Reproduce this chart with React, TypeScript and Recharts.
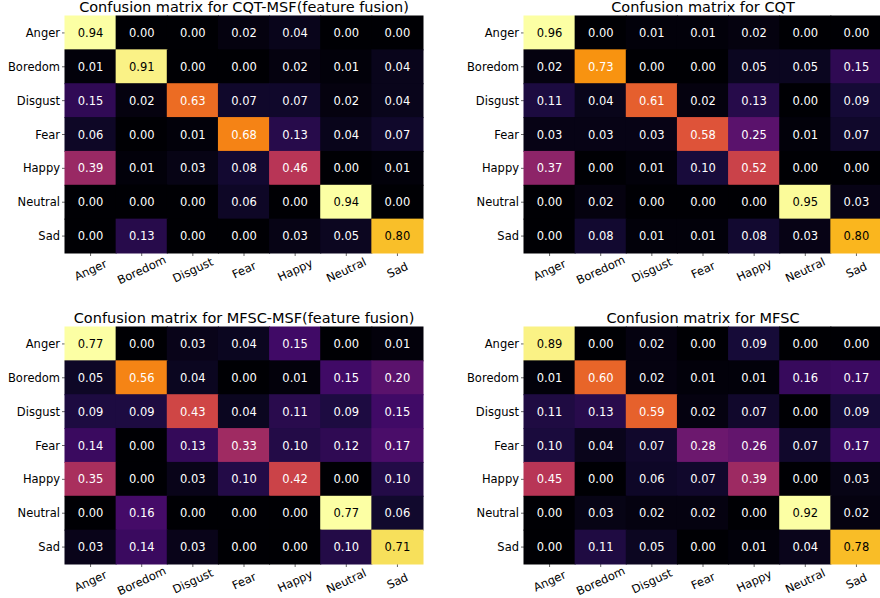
import React from 'react'
import {ScatterChart, Scatter, XAxis, YAxis} from 'recharts'

const labels = ['Anger', 'Boredom', 'Disgust', 'Fear', 'Happy', 'Neutral', 'Sad']

const cqtMsf = [
  [0.94, 0.0, 0.0, 0.02, 0.04, 0.0, 0.0],
  [0.01, 0.91, 0.0, 0.0, 0.02, 0.01, 0.04],
  [0.15, 0.02, 0.63, 0.07, 0.07, 0.02, 0.04],
  [0.06, 0.0, 0.01, 0.68, 0.13, 0.04, 0.07],
  [0.39, 0.01, 0.03, 0.08, 0.46, 0.0, 0.01],
  [0.0, 0.0, 0.0, 0.06, 0.0, 0.94, 0.0],
  [0.0, 0.13, 0.0, 0.0, 0.03, 0.05, 0.8],
]
const cqt = [
  [0.96, 0.0, 0.01, 0.01, 0.02, 0.0, 0.0],
  [0.02, 0.73, 0.0, 0.0, 0.05, 0.05, 0.15],
  [0.11, 0.04, 0.61, 0.02, 0.13, 0.0, 0.09],
  [0.03, 0.03, 0.03, 0.58, 0.25, 0.01, 0.07],
  [0.37, 0.0, 0.01, 0.1, 0.52, 0.0, 0.0],
  [0.0, 0.02, 0.0, 0.0, 0.0, 0.95, 0.03],
  [0.0, 0.08, 0.01, 0.01, 0.08, 0.03, 0.8],
]
const mfscMsf = [
  [0.77, 0.0, 0.03, 0.04, 0.15, 0.0, 0.01],
  [0.05, 0.56, 0.04, 0.0, 0.01, 0.15, 0.2],
  [0.09, 0.09, 0.43, 0.04, 0.11, 0.09, 0.15],
  [0.14, 0.0, 0.13, 0.33, 0.1, 0.12, 0.17],
  [0.35, 0.0, 0.03, 0.1, 0.42, 0.0, 0.1],
  [0.0, 0.16, 0.0, 0.0, 0.0, 0.77, 0.06],
  [0.03, 0.14, 0.03, 0.0, 0.0, 0.1, 0.71],
]
const mfsc = [
  [0.89, 0.0, 0.02, 0.0, 0.09, 0.0, 0.0],
  [0.01, 0.6, 0.02, 0.01, 0.01, 0.16, 0.17],
  [0.11, 0.13, 0.59, 0.02, 0.07, 0.0, 0.09],
  [0.1, 0.04, 0.07, 0.28, 0.26, 0.07, 0.17],
  [0.45, 0.0, 0.06, 0.07, 0.39, 0.0, 0.03],
  [0.0, 0.03, 0.02, 0.02, 0.0, 0.92, 0.02],
  [0.0, 0.11, 0.05, 0.0, 0.01, 0.04, 0.78],
]

const inferno = [
  '#000004', '#160b39', '#420a68', '#6a176e', '#932667', '#bc3754',
  '#dd513a', '#f37819', '#fca50a', '#f6d746', '#fcffa4',
]

function hex(c: string) {
  return [1, 3, 5].map(i => parseInt(c.slice(i, i + 2), 16))
}
function colorOf(t: number) {
  const p = Math.max(0, Math.min(1, t)) * 10
  const i = Math.min(9, Math.floor(p))
  const f = p - i
  const a = hex(inferno[i]), b = hex(inferno[i + 1])
  return `rgb(${a.map((v, k) => Math.round(v + (b[k] - v) * f)).join(',')})`
}

const PW = 358
const PH = 237
const CW = PW / 7
const CH = PH / 7
const font = 'DejaVu Sans, sans-serif'

function Panel({title, m, left, top, yw}: {title: string; m: number[][]; left: number; top: number; yw: number}) {
  const max = Math.max(...m.flat())
  const data = m.flatMap((row, r) => row.map((v, c) => ({x: labels[c], y: labels[r], v})))
  const XTick = (p: any) => (
    <text x={p.x} y={p.y + 16} transform={`rotate(-25 ${p.x} ${p.y + 12})`} textAnchor="middle"
      fontSize={11.5} fontFamily={font} fill="#000">{p.payload.value}</text>
  )
  const Cell = (p: any) => {
    const t = p.payload.v / max
    return (
      <g>
        <rect x={p.cx - CW / 2 - 0.5} y={p.cy - CH / 2 - 0.5} width={CW + 1} height={CH + 1} fill={colorOf(t)} />
        <text x={p.cx} y={p.cy + 4} textAnchor="middle" fontSize={11.5} fontFamily={font}
          fill={t > 0.8 ? '#000' : '#fff'}>{p.payload.v.toFixed(2)}</text>
      </g>
    )
  }
  return (
    <div style={{position: 'absolute', left, top}}>
      <ScatterChart width={yw + PW} height={16 + PH + 30} margin={{top: 16, right: 0, bottom: 0, left: 0}}>
        <text x={yw + PW / 2} y={12} textAnchor="middle" fontSize={14.5} fontFamily={font} fill="#000">{title}</text>
        <XAxis type="category" dataKey="x" allowDuplicatedCategory={false} height={30}
          axisLine={false} tickSize={3} tick={XTick} interval={0} />
        <YAxis type="category" dataKey="y" allowDuplicatedCategory={false} width={yw} reversed
          axisLine={false} tickSize={3} tickMargin={2} interval={0}
          tick={{fontSize: 11.5, fontFamily: font, fill: '#000'}} />
        <Scatter data={data} shape={Cell} isAnimationActive={false} />
      </ScatterChart>
    </div>
  )
}

export default function App() {
  return (
    <div style={{position: 'absolute', left: 0, top: 0, width: 880, height: 598, background: '#fff', overflow: 'hidden'}}>
      <style>{'svg.recharts-surface{overflow:visible}'}</style>
      <Panel title="Confusion matrix for CQT-MSF(feature fusion)" m={cqtMsf} left={0} top={0} yw={65} />
      <Panel title="Confusion matrix for CQT" m={cqt} left={440} top={0} yw={84} />
      <Panel title="Confusion matrix for MFSC-MSF(feature fusion)" m={mfscMsf} left={0} top={311} yw={65} />
      <Panel title="Confusion matrix for MFSC" m={mfsc} left={440} top={311} yw={84} />
    </div>
  )
}
